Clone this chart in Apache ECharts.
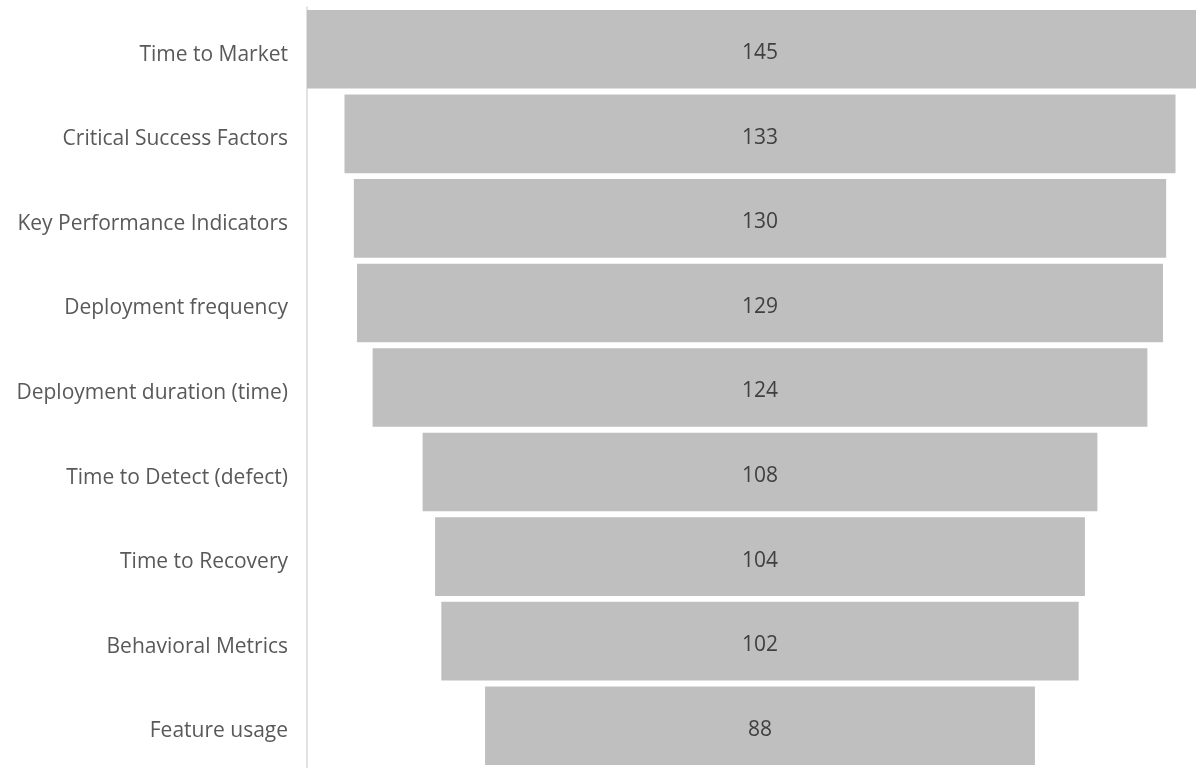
<!DOCTYPE html>
<html>
<head>
<meta charset="utf-8">
<script src="https://cdn.jsdelivr.net/npm/echarts@6/dist/echarts.min.js"></script>
<style>
  html, body { margin: 0; padding: 0; background: #ffffff; overflow: hidden; width: 1196px; height: 768px; }
  /* the widest stage runs past the right edge of the page */
  #chart { width: 1240px; height: 768px; }
</style>
</head>
<body>
<div id="chart"></div>
<script>
// Funnel stages, top to bottom
const categories = [
  'Time to Market',
  'Critical Success Factors',
  'Key Performance Indicators',
  'Deployment frequency',
  'Deployment duration (time)',
  'Time to Detect (defect)',
  'Time to Recovery',
  'Behavioral Metrics',
  'Feature usage'
];
const values = [145, 133, 130, 129, 124, 108, 104, 102, 88];

// Each bar is centred by stacking it on a transparent spacer of half the gap
const widest = Math.max(...values);
const spacers = values.map(v => (widest - v) / 2);

const chart = echarts.init(document.getElementById('chart'), null, { renderer: 'canvas' });
chart.setOption({
  animation: false,
  grid: { left: 307, top: 7, width: 906, height: 765, containLabel: false },
  xAxis: {
    type: 'value', min: 0, max: widest, show: false
  },
  yAxis: {
    type: 'category',
    inverse: true,
    data: categories,
    axisLine: { show: true, lineStyle: { color: '#d9d9d9', width: 1.5 } },
    axisTick: { show: false },
    axisLabel: {
      color: '#595959',
      fontFamily: 'Open Sans',
      fontSize: 21,
      margin: 19,
      formatter: '{s|{value}}',
      rich: {
        s: {
          color: '#595959',
          fontFamily: 'Open Sans',
          fontSize: 21,
          padding: [11, 0, 0, 0]
        }
      }
    }
  },
  series: [
    {
      type: 'bar',
      stack: 'funnel',
      data: spacers,
      itemStyle: { color: 'transparent' },
      barCategoryGap: '7%',
      silent: true
    },
    {
      type: 'bar',
      stack: 'funnel',
      data: values,
      barCategoryGap: '7%',
      itemStyle: { color: '#bfbfbf' },
      label: {
        show: true,
        position: 'inside',
        color: '#404040',
        fontFamily: 'Open Sans',
        fontSize: 21,
        offset: [0, 4]
      }
    }
  ]
});
</script>
</body>
</html>
